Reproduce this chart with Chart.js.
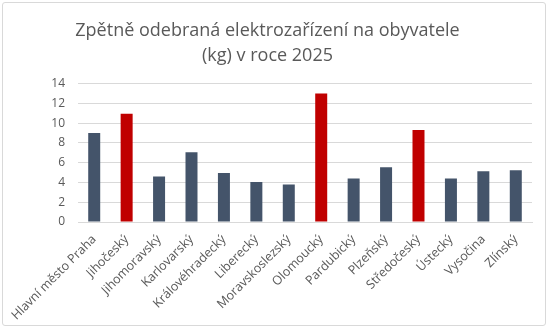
<!DOCTYPE html>
<html>
<head>
<meta charset="utf-8">
<script src="https://cdn.jsdelivr.net/npm/chart.js@4/dist/chart.umd.min.js"></script>
<style>
  html, body { margin: 0; padding: 0; background: #fff; }
  #wrap {
    position: absolute; left: 2px; top: 2px;
    width: 544px; height: 324px;
    border: 1px solid #d9d9d9; border-radius: 3px;
    box-sizing: border-box;
  }
</style>
</head>
<body>
<div id="wrap"><canvas id="myChart"></canvas></div>
<script>
// kraje
const kraje = [
  "Hlavní město Praha",
  "Jihočeský",
  "Jihomoravský",
  "Karlovarský",
  "Královéhradecký",
  "Liberecký",
  "Moravskoslezský",
  "Olomoucký",
  "Pardubický",
  "Plzeňský",
  "Středočeský",
  "Ústecký",
  "Vysočina",
  "Zlínský",
];

// kg na obyvatele
const hodnoty = [9.0, 10.95, 4.6, 7.05, 4.95, 4.05, 3.8, 13.0, 4.4, 5.55, 9.3, 4.4, 5.15, 5.25];

// zvýrazněné kraje
const zvyraznene = ["Jihočeský", "Olomoucký", "Středočeský"];

const barvy = kraje.map((k) => (zvyraznene.includes(k) ? "#C00000" : "#44546A"));

const ctx = document.getElementById("myChart").getContext("2d");
const myChart = new Chart(ctx, {
  type: "bar",
  data: {
    labels: kraje,
    datasets: [
      {
        label: "kg/obyvatele",
        data: hodnoty,
        backgroundColor: barvy,
        borderColor: barvy,
        borderWidth: 0,
        barPercentage: 0.74,
        categoryPercentage: 0.5,
      },
    ],
  },
  options: {
    maintainAspectRatio: false,
    animation: false,
    layout: {
      padding: { left: 0, right: 13, top: 10, bottom: 0 },
    },
    plugins: {
      legend: { display: false },
      tooltip: { enabled: false },
      title: {
        display: true,
        text: ["Zpětně odebraná elektrozařízení na obyvatele", "(kg) v roce 2025"],
        color: "#595959",
        font: { family: "Open Sans", size: 18, weight: "normal", lineHeight: 1.35 },
        padding: { top: 6, bottom: 16 },
      },
    },
    scales: {
      y: {
        min: 0,
        max: 14,
        // sirka osy, aby graf zacinal jako v originale
        afterFit: (scale) => {
          scale.width = 75;
        },
        ticks: {
          stepSize: 2,
          color: "#595959",
          padding: 13,
          font: { family: "Open Sans", size: 12 },
        },
        grid: { color: "#D9D9D9", drawTicks: false },
        border: { display: false },
      },
      x: {
        ticks: {
          color: "#595959",
          maxRotation: 45,
          minRotation: 45,
          autoSkip: false,
          padding: 2,
          font: { family: "Open Sans", size: 12.5 },
        },
        grid: { display: false },
        border: { color: "#D9D9D9" },
      },
    },
  },
});
</script>
</body>
</html>
